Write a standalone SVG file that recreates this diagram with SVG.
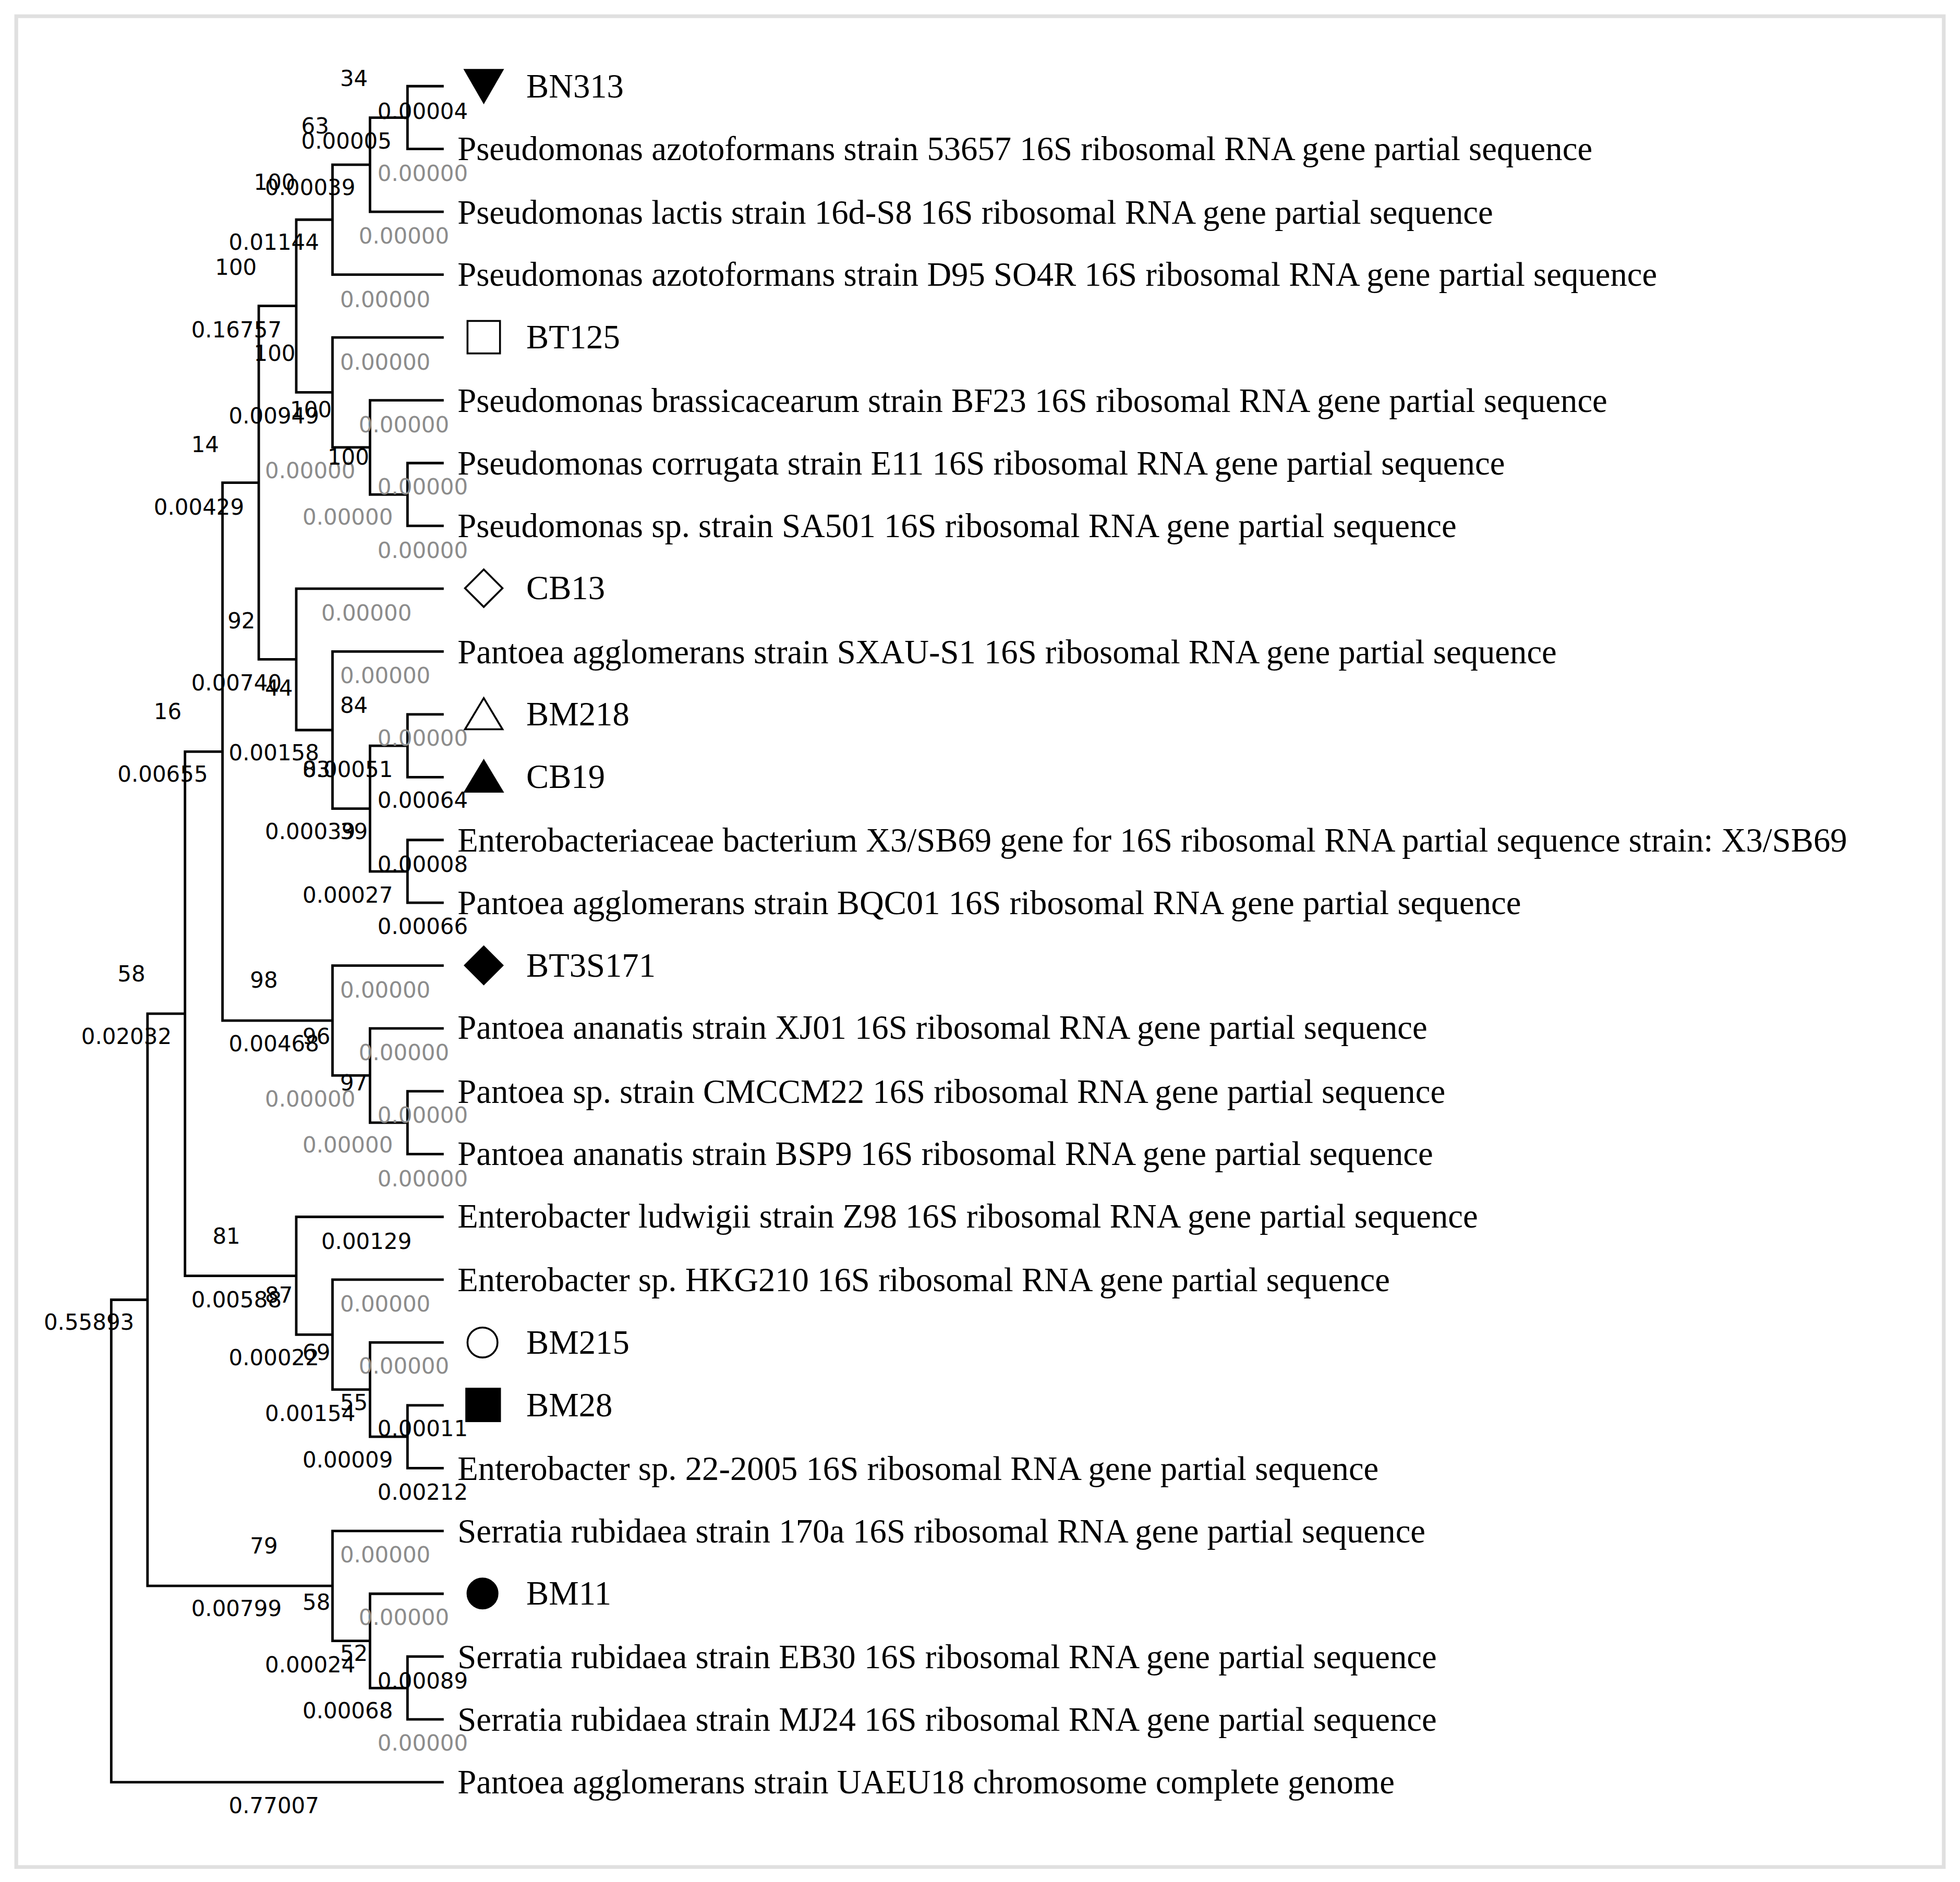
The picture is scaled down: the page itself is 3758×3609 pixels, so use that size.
<svg xmlns="http://www.w3.org/2000/svg" width="3758" height="3609" viewBox="0 0 3758 3609">
<style>
.b{fill:none;stroke:#000;stroke-width:2}
.lf{font-family:"Liberation Serif",serif;font-size:27px;fill:#000}
.n{font-family:"DejaVu Sans",sans-serif;font-size:17.5px;fill:#000}
.g{font-family:"DejaVu Sans",sans-serif;font-size:17.5px;fill:#8c8c8c}
.mf{fill:#000;stroke:#000;stroke-width:1.5}
.mo{fill:#fff;stroke:#000;stroke-width:1.5}
</style>
<rect width="3758" height="3609" fill="#fff"/>
<g transform="scale(2.3967,2.3948)">
<rect x="13" y="13" width="1542" height="1482" fill="none" stroke="#e0e0e0" stroke-width="3"/>
<g id="connectors">
<path class="b" d="M355,69H326V119.3H355 M326,94.2H296V169.6H355 M296,131.9H266V219.9H355
M355,370.8H326V421.1H355 M326,396H296V320.5H355 M296,358.2H266V270.2H355
M266,175.9H237V314.2H266 M237,245H207V528H237
M355,572H326V622.3H355 M355,672.6H326V722.9H355 M326,597.2H296V697.8H326 M296,647.5H266V521.7H355 M266,584.6H237V471.4H355
M207,386.5H178V817.2H266
M355,873.8H326V924.1H355 M326,899H296V823.5H355 M296,861.2H266V773.2H355
M178,601.9H148V1021.6H237
M355,1125.3H326V1175.6H355 M326,1150.5H296V1075H355 M296,1112.7H266V1024.7H355 M266,1068.7H237V974.4H355
M148,811.7H118V1269.9H266
M355,1326.5H326V1376.8H355 M326,1351.7H296V1276.2H355 M296,1313.9H266V1225.9H355
M118,1040.8H89V1427.1H355"/>
</g>
<g id="labels">
<text class="n" x="272" y="69">34</text>
<text class="n" x="302" y="95">0.00004</text>
<text class="n" x="241" y="107">63</text>
<text class="n" x="241" y="119">0.00005</text>
<text class="g" x="302" y="145">0.00000</text>
<text class="n" x="203" y="152">100</text>
<text class="n" x="212" y="156">0.00039</text>
<text class="g" x="287" y="195">0.00000</text>
<text class="n" x="183" y="200">0.01144</text>
<text class="n" x="172" y="220">100</text>
<text class="g" x="272" y="246">0.00000</text>
<text class="n" x="153" y="270">0.16757</text>
<text class="n" x="203" y="289">100</text>
<text class="g" x="272" y="296">0.00000</text>
<text class="n" x="183" y="339">0.00949</text>
<text class="n" x="232" y="334">100</text>
<text class="g" x="287" y="346">0.00000</text>
<text class="n" x="153" y="362">14</text>
<text class="g" x="212" y="383">0.00000</text>
<text class="n" x="262" y="372">100</text>
<text class="g" x="302" y="396">0.00000</text>
<text class="n" x="123" y="412">0.00429</text>
<text class="g" x="242" y="420">0.00000</text>
<text class="g" x="302" y="447">0.00000</text>
<text class="g" x="257" y="497">0.00000</text>
<text class="n" x="182" y="503">92</text>
<text class="g" x="272" y="547">0.00000</text>
<text class="n" x="153" y="553">0.00740</text>
<text class="n" x="212" y="557">44</text>
<text class="n" x="272" y="571">84</text>
<text class="n" x="123" y="576">16</text>
<text class="g" x="302" y="597">0.00000</text>
<text class="n" x="183" y="609">0.00158</text>
<text class="n" x="242" y="622">83</text>
<text class="n" x="242" y="622">0.00051</text>
<text class="n" x="94" y="626">0.00655</text>
<text class="n" x="302" y="647">0.00064</text>
<text class="n" x="212" y="672">0.00039</text>
<text class="n" x="272" y="672">39</text>
<text class="n" x="302" y="698">0.00008</text>
<text class="n" x="242" y="723">0.00027</text>
<text class="n" x="302" y="748">0.00066</text>
<text class="n" x="94" y="786">58</text>
<text class="n" x="200" y="791">98</text>
<text class="g" x="272" y="799">0.00000</text>
<text class="n" x="65" y="836">0.02032</text>
<text class="n" x="183" y="842">0.00468</text>
<text class="n" x="242" y="836">96</text>
<text class="g" x="287" y="849">0.00000</text>
<text class="n" x="272" y="873">97</text>
<text class="g" x="212" y="886">0.00000</text>
<text class="g" x="302" y="899">0.00000</text>
<text class="g" x="242" y="923">0.00000</text>
<text class="g" x="302" y="950">0.00000</text>
<text class="n" x="170" y="996">81</text>
<text class="n" x="257" y="1000">0.00129</text>
<text class="n" x="153" y="1047">0.00588</text>
<text class="n" x="212" y="1043">87</text>
<text class="g" x="272" y="1050">0.00000</text>
<text class="n" x="35" y="1065">0.55893</text>
<text class="n" x="183" y="1093">0.00022</text>
<text class="n" x="242" y="1089">69</text>
<text class="g" x="287" y="1100">0.00000</text>
<text class="n" x="212" y="1138">0.00154</text>
<text class="n" x="272" y="1129">55</text>
<text class="n" x="302" y="1150">0.00011</text>
<text class="n" x="242" y="1175">0.00009</text>
<text class="n" x="302" y="1201">0.00212</text>
<text class="n" x="200" y="1244">79</text>
<text class="g" x="272" y="1251">0.00000</text>
<text class="n" x="153" y="1294">0.00799</text>
<text class="n" x="242" y="1289">58</text>
<text class="g" x="287" y="1301">0.00000</text>
<text class="n" x="212" y="1339">0.00024</text>
<text class="n" x="272" y="1330">52</text>
<text class="n" x="302" y="1352">0.00089</text>
<text class="n" x="242" y="1376">0.00068</text>
<text class="g" x="302" y="1402">0.00000</text>
<text class="n" x="183" y="1452">0.77007</text>
</g>
<g id="leaf-BN313"><polygon class="mf" points="372,56 402,56 387,82"/><text class="lf" x="421" y="78">BN313</text></g>
<g id="leaf-1"><text class="lf" x="366" y="128">Pseudomonas azotoformans strain 53657 16S ribosomal RNA gene partial sequence</text></g>
<g id="leaf-2"><text class="lf" x="366" y="179">Pseudomonas lactis strain 16d-S8 16S ribosomal RNA gene partial sequence</text></g>
<g id="leaf-3"><text class="lf" x="366" y="229">Pseudomonas azotoformans strain D95 SO4R 16S ribosomal RNA gene partial sequence</text></g>
<g id="leaf-BT125"><rect class="mo" x="374" y="257" width="26" height="26"/><text class="lf" x="421" y="279">BT125</text></g>
<g id="leaf-5"><text class="lf" x="366" y="330">Pseudomonas brassicacearum strain BF23 16S ribosomal RNA gene partial sequence</text></g>
<g id="leaf-6"><text class="lf" x="366" y="380">Pseudomonas corrugata strain E11 16S ribosomal RNA gene partial sequence</text></g>
<g id="leaf-7"><text class="lf" x="366" y="430">Pseudomonas sp. strain SA501 16S ribosomal RNA gene partial sequence</text></g>
<g id="leaf-CB13"><polygon class="mo" points="387,456 402,471 387,486 372,471"/><text class="lf" x="421" y="480">CB13</text></g>
<g id="leaf-9"><text class="lf" x="366" y="531">Pantoea agglomerans strain SXAU-S1 16S ribosomal RNA gene partial sequence</text></g>
<g id="leaf-BM218"><polygon class="mo" points="387,559 402,584 372,584"/><text class="lf" x="421" y="581">BM218</text></g>
<g id="leaf-CB19"><polygon class="mf" points="387,609 402,634 372,634"/><text class="lf" x="421" y="631">CB19</text></g>
<g id="leaf-12"><text class="lf" x="366" y="682">Enterobacteriaceae bacterium X3/SB69 gene for 16S ribosomal RNA partial sequence strain: X3/SB69</text></g>
<g id="leaf-13"><text class="lf" x="366" y="732">Pantoea agglomerans strain BQC01 16S ribosomal RNA gene partial sequence</text></g>
<g id="leaf-BT3S171"><polygon class="mf" points="387,758 402,773 387,788 372,773"/><text class="lf" x="421" y="782">BT3S171</text></g>
<g id="leaf-15"><text class="lf" x="366" y="832">Pantoea ananatis strain XJ01 16S ribosomal RNA gene partial sequence</text></g>
<g id="leaf-16"><text class="lf" x="366" y="883">Pantoea sp. strain CMCCM22 16S ribosomal RNA gene partial sequence</text></g>
<g id="leaf-17"><text class="lf" x="366" y="933">Pantoea ananatis strain BSP9 16S ribosomal RNA gene partial sequence</text></g>
<g id="leaf-18"><text class="lf" x="366" y="983">Enterobacter ludwigii strain Z98 16S ribosomal RNA gene partial sequence</text></g>
<g id="leaf-19"><text class="lf" x="366" y="1034">Enterobacter sp. HKG210 16S ribosomal RNA gene partial sequence</text></g>
<g id="leaf-BM215"><circle class="mo" cx="386" cy="1075" r="12"/><text class="lf" x="421" y="1084">BM215</text></g>
<g id="leaf-BM28"><rect class="mf" x="373" y="1112" width="27" height="26"/><text class="lf" x="421" y="1134">BM28</text></g>
<g id="leaf-22"><text class="lf" x="366" y="1185">Enterobacter sp. 22-2005 16S ribosomal RNA gene partial sequence</text></g>
<g id="leaf-23"><text class="lf" x="366" y="1235">Serratia rubidaea strain 170a 16S ribosomal RNA gene partial sequence</text></g>
<g id="leaf-BM11"><circle class="mf" cx="386" cy="1276" r="12"/><text class="lf" x="421" y="1285">BM11</text></g>
<g id="leaf-25"><text class="lf" x="366" y="1336">Serratia rubidaea strain EB30 16S ribosomal RNA gene partial sequence</text></g>
<g id="leaf-26"><text class="lf" x="366" y="1386">Serratia rubidaea strain MJ24 16S ribosomal RNA gene partial sequence</text></g>
<g id="leaf-27"><text class="lf" x="366" y="1436">Pantoea agglomerans strain UAEU18 chromosome complete genome</text></g>
</g>
</svg>
